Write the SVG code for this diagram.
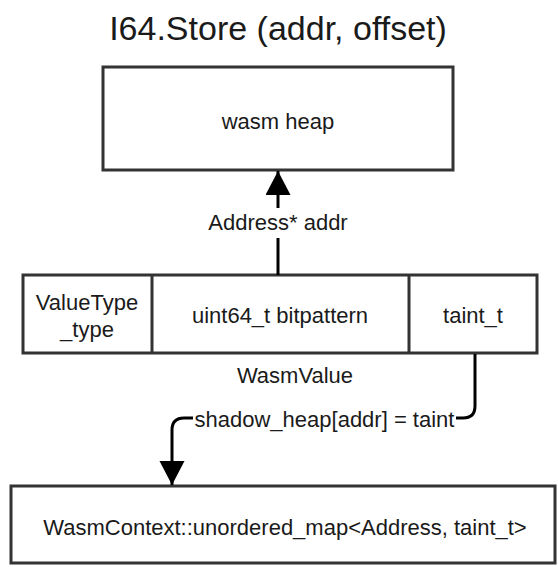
<svg xmlns="http://www.w3.org/2000/svg" width="558" height="567" viewBox="0 0 558 567">
  <style>
    .box { fill: #ffffff; stroke: #333333; stroke-width: 3; }
    .div { stroke: #333333; stroke-width: 3; }
    .t { font-family: "Liberation Sans", Arial, sans-serif; font-size: 22px; fill: #1a1a1a; text-anchor: middle; dominant-baseline: central; }
    .title { font-family: "Liberation Sans", Arial, sans-serif; font-size: 34px; fill: #1a1a1a; text-anchor: middle; }
    .conn { fill: none; stroke: #000000; stroke-width: 3; }
    .lblbg { fill: #ffffff; stroke: none; }
  </style>
  <defs>
    <marker id="arrow" markerUnits="userSpaceOnUse" markerWidth="26" markerHeight="26" refX="24" refY="12.5" orient="auto">
      <path d="M0,0 L24,12.5 L0,25 Z" fill="#000000"/>
    </marker>
  </defs>

  <rect x="0" y="0" width="558" height="567" fill="#ffffff"/>

  <g id="title">
    <text class="title" x="278" y="39.5">I64.Store (addr, offset)</text>
  </g>

  <g id="wasm-heap">
    <rect class="box" x="103" y="67" width="350" height="103"/>
    <text class="t" x="278" y="121">wasm heap</text>
  </g>

  <g id="wasm-value">
    <rect class="box" x="23" y="275" width="514" height="78"/>
    <line class="div" x1="152" y1="275" x2="152" y2="353"/>
    <line class="div" x1="409" y1="275" x2="409" y2="353"/>
    <text class="t" x="87" y="302">ValueType</text>
    <text class="t" x="87" y="329">_type</text>
    <text class="t" x="280" y="315">uint64_t bitpattern</text>
    <text class="t" x="473" y="315">taint_t</text>
    <text class="t" x="295" y="375">WasmValue</text>
  </g>

  <g id="context-map">
    <rect class="box" x="11" y="486" width="544" height="77"/>
    <text class="t" x="285" y="527">WasmContext::unordered_map&lt;Address, taint_t&gt;</text>
  </g>

  <g id="connectors">
    <path class="conn" d="M278,275 V171" marker-end="url(#arrow)"/>
    <rect class="lblbg" x="200" y="208" width="156" height="30"/>
    <text class="t" x="278" y="222">Address* addr</text>

    <path class="conn" d="M475,354 V406 Q475,418 463,418 H184 Q172,418 172,430 V485" marker-end="url(#arrow)"/>
    <rect class="lblbg" x="193" y="406" width="263" height="26"/>
    <text class="t" x="324.5" y="419">shadow_heap[addr] = taint</text>
  </g>
</svg>
